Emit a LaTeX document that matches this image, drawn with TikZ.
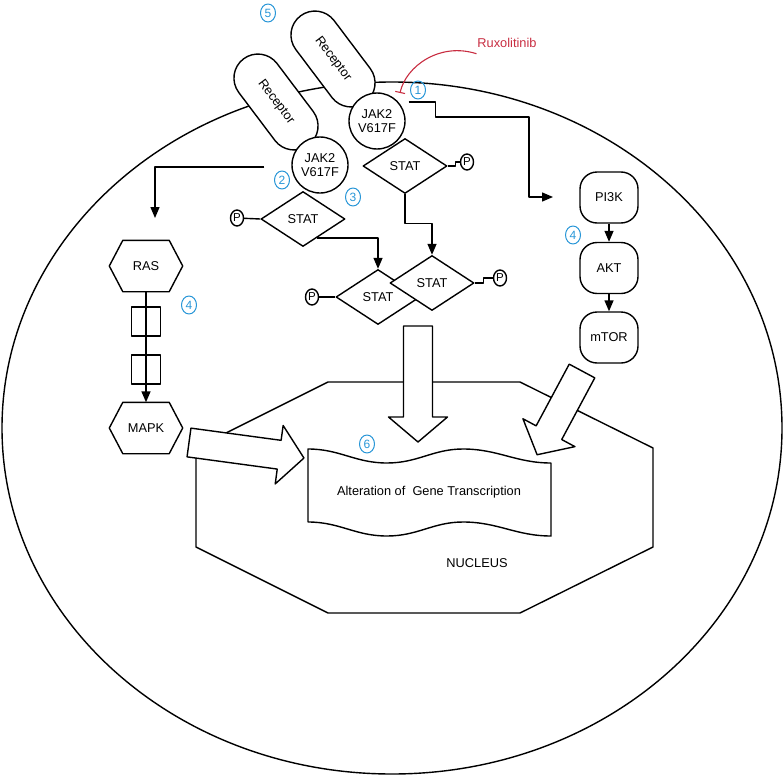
\documentclass[tikz,border=0pt]{standalone}
\usepackage{fontspec}
\setmainfont{Liberation Sans}
\usetikzlibrary{shapes.geometric,shapes.misc,arrows.meta,calc}
\definecolor{numblue}{RGB}{40,150,215}
\definecolor{ruxred}{RGB}{200,45,65}
\newcommand{\drawblockarrow}[4]{%
  \begin{scope}[shift={(#1,#2)},rotate=#3]
    \draw[fill=white] (0,-14.5) -- ({#4-25},-14.5) -- ({#4-25},-29.5) -- (#4,0)
      -- ({#4-25},29.5) -- ({#4-25},14.5) -- (0,14.5) -- cycle;
  \end{scope}}
\begin{document}
\begin{tikzpicture}[x=1pt,y=-1pt,line width=1.4pt,line join=round,
  every node/.style={font=\fontsize{12.8}{14}\selectfont},
  recbox/.style={rounded rectangle,draw,fill=white,minimum width=108pt,minimum height=48pt,rotate=-53,inner sep=0pt},
  jakc/.style={circle,draw,fill=white,minimum size=56pt,inner sep=0pt,align=center,font=\fontsize{12.8}{13.5}\selectfont},
  statd/.style={diamond,draw,fill=white,minimum width=84pt,minimum height=55pt,inner sep=0pt},
  pc/.style={ellipse,draw,fill=white,minimum width=13pt,minimum height=16pt,inner sep=0pt,font=\fontsize{11.5}{12}\selectfont},
  num/.style={ellipse,draw=numblue,text=numblue,line width=1pt,minimum width=15pt,minimum height=18pt,inner sep=0pt,font=\fontsize{12}{12}\selectfont},
  kbox/.style={draw,rounded corners=17pt,minimum width=58pt,minimum height=51pt,inner sep=0pt},
  sqbox/.style={draw,minimum size=29pt,inner sep=0pt},
  hexn/.style={minimum width=72pt,minimum height=50pt,inner sep=0pt},
  arr/.style={-{Triangle[length=11pt,width=9pt]}},
]
\useasboundingbox (0,0) rectangle (784,776);

% cell
\draw (392,428) ellipse [x radius=390pt, y radius=346pt];

% nucleus
\draw (328,382) -- (520,382) -- (653,448) -- (653,547) -- (520,613) -- (328,613) -- (196,547) -- (196,448) -- cycle;
\node (nuc) at (477,563) {NUCLEUS};

% gene transcription document
\node (gene) at (429,492) {Alteration of~ Gene Transcription};
\draw (308,449) .. controls (340,449) and (355,463) .. (387,463)
  .. controls (418,463) and (433,449) .. (463,449)
  .. controls (498,449) and (516,463) .. (551,463) -- (551,536)
  .. controls (516,536) and (498,522) .. (463,522)
  .. controls (433,522) and (418,536) .. (387,536)
  .. controls (355,536) and (340,522) .. (308,522) -- cycle;

% receptors
\node[recbox] (rec1) at (333,59) {Receptor};
\node[recbox] (rec2) at (276,102) {Receptor};

% STAT diamonds
\node[statd] (stat1) at (405,166) {STAT};
\node[statd] (stat2) at (303,219) {STAT};
\node[statd] (stat3) at (378,297) {STAT};
\node[statd] (stat4) at (432,283) {STAT};

% JAK2
\node[jakc] (jak1) at (377,121) {JAK2\\V617F};
\node[jakc] (jak2) at (320,165) {JAK2\\V617F};

% phosphates
\node[pc] (p1) at (467,162) {P};
\node[pc] (p2) at (237,218) {P};
\node[pc] (p3) at (312,297) {P};
\node[pc] (p4) at (500,278) {P};
\draw (stat1.east) -- ++(8,0) |- (p1.west);
\draw (p2) -- (stat2.west);
\draw (p3) -- (stat3.west);
\draw (stat4.east) -- ++(9,0) |- (p4.west);

% STAT connectors
\draw[arr] ($(stat2.south)!0.33!(stat2.east)$) -| (stat3.north);
\draw[arr] (stat1.south) -- ++(0,29) -| (stat4.north);

% RAS / MAPK
\node[hexn] (ras) at (146,266) {RAS};
\node[hexn] (mapk) at (146,428) {MAPK};
\foreach \n in {ras,mapk}{
  \draw (\n.west) -- ($(\n.north west)+(13.5,0)$) -- ($(\n.north east)+(-13.5,0)$) -- (\n.east)
    -- ($(\n.south east)+(-13.5,0)$) -- ($(\n.south west)+(13.5,0)$) -- cycle;
}
\node[sqbox] (sq1) at (146,321.5) {};
\node[sqbox] (sq2) at (146,369.5) {};
\draw[arr] (ras.south) -- (mapk.north);

% PI3K / AKT / mTOR
\node[kbox] (pi3k) at (609,197.5) {PI3K};
\node[kbox] (akt) at (609,268) {AKT};
\node[kbox] (mtor) at (609,337.5) {mTOR};
\draw[arr] (pi3k) -- (akt);
\draw[arr] (akt) -- (mtor);

% JAK2 outputs
\coordinate (rasin) at (155,218);
\draw[arr] ($(jak2.west)+(-27,2)$) -| (rasin);
\coordinate (pin) at (553,197);
\draw[arr] ($(jak1.east)+(3,-19)$) -- ++(27,0) -- ++(0,15) -| (529,197) -- (pin);

% Ruxolitinib
\node[text=ruxred] (rux) at (507,43) {Ruxolitinib};
\draw[ruxred,line width=1.1pt,-{Bar[width=10pt]}] ($(rux.south west)+(3,2)$) .. controls (440,42) and (406,66) .. (400,93);

% block arrows
\drawblockarrow{418}{326}{-90}{116}
\drawblockarrow{189}{442.5}{-7.7}{116}
\drawblockarrow{582}{371}{-118.2}{95}

% numbers
\node[num] (n5) at (268,13) {5};
\node[num] (n1) at (418,90) {1};
\node[num] (n2) at (282,180) {2};
\node[num] (n3) at (353,197) {3};
\node[num] (n4a) at (189,305) {4};
\node[num] (n4b) at (573,235) {4};
\node[num] (n6) at (367,444) {6};
\end{tikzpicture}
\end{document}
